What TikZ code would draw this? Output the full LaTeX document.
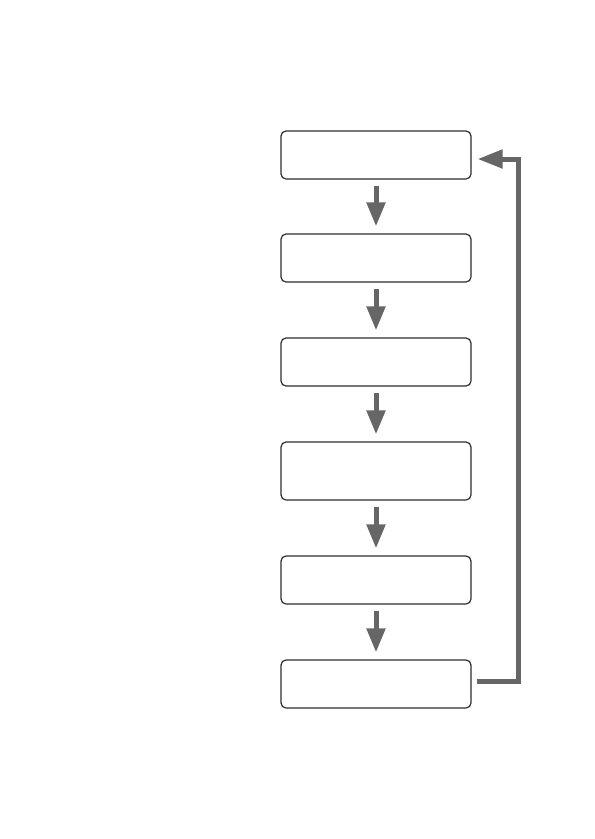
\documentclass[tikz,border=0pt]{standalone}
\usetikzlibrary{arrows.meta}
\definecolor{arrowgray}{HTML}{666666}
\definecolor{boxline}{HTML}{2E2E2E}
\begin{document}
\begin{tikzpicture}[x=1pt,y=1pt,
  stepbox/.style={draw=boxline, line width=1.2pt, rounded corners=5pt, minimum width=190pt, minimum height=48pt, inner sep=0pt, fill=white},
  flowarrow/.style={draw=arrowgray, line width=5pt, -{Triangle[length=24pt,width=18pt]}, shorten <=6pt, shorten >=7pt},
  backarrow/.style={draw=arrowgray, line width=5pt, -{Triangle[length=25pt,width=18pt]}}
]
\useasboundingbox (0,0) rectangle (595,-839);
\node[stepbox] (b1) at (376,-155) {};
\node[stepbox] (b2) at (376,-258) {};
\node[stepbox] (b3) at (376,-362) {};
\node[stepbox, minimum height=58pt] (b4) at (376,-471) {};
\node[stepbox] (b5) at (376,-580) {};
\node[stepbox] (b6) at (376,-684) {};
\draw[flowarrow] (b1) -- (b2);
\draw[flowarrow] (b2) -- (b3);
\draw[flowarrow] (b3) -- (b4);
\draw[flowarrow] (b4) -- (b5);
\draw[flowarrow] (b5) -- (b6);
\coordinate (s) at ([xshift=5pt,yshift=3pt]b6.east);
\coordinate (t) at ([xshift=6pt,yshift=-4pt]b1.east);
\coordinate (r) at (518,0);
\draw[backarrow] (s) -- (s -| r) -- (t -| r) -- (t);
\end{tikzpicture}
\end{document}
